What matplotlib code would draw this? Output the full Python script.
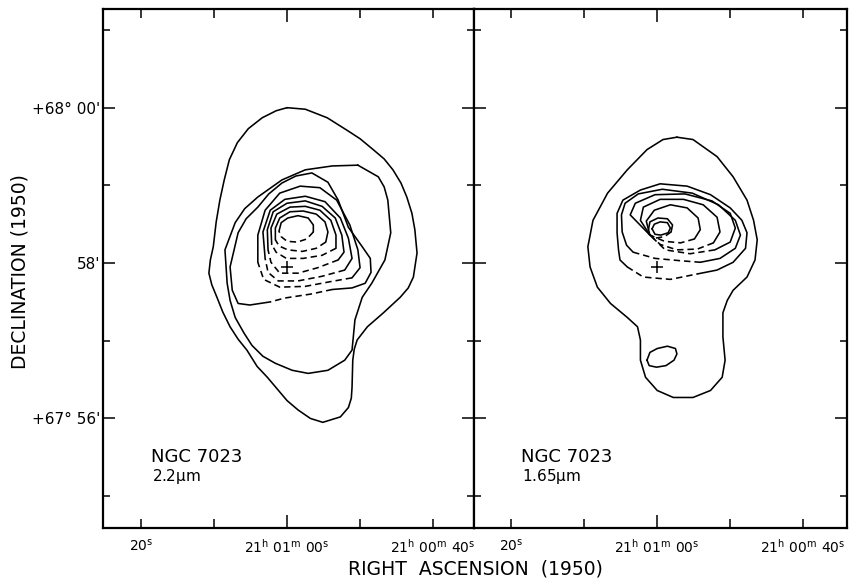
import matplotlib.pyplot as plt

plt.rcParams['font.family'] = 'DejaVu Sans'
plt.rcParams['mathtext.fontset'] = 'dejavusans'
plt.rcParams['mathtext.default'] = 'regular'

# axes: x = RA offset in seconds from 21h01m00s (east positive), y = Dec offset in arcmin from +67 58'
ra_ticks = [20, 10, 0, -10, -20]
ra_labels = [r'$20^{s}$', '', r'$21^{h}\ 01^{m}\ 00^{s}$', '', r'$21^{h}\ 00^{m}\ 40^{s}$']
dec_ticks = [-3, -2, -1, 0, 1, 2, 3]
dec_labels = ['', "+67° 56'", '', "58'", '', "+68° 00'", '']
star_x, star_y = 0.0, -0.05

# ---- 2.2 micron map ----
k_outer_x = [0.0, -2.5, -5.5, -8.2, -10.0, -11.8, -13.3, -14.5, -15.6, -16.4, -17.1, -17.5, -17.8, -17.3, -16.6,
             -15.5, -13.2, -11.0, -9.6, -9.2, -9.0, -8.9, -8.8, -8.4, -7.3, -4.9, -3.2, -1.5, 0.0, 2.7, 4.1, 5.5,
             6.7, 7.8, 8.8, 9.6, 10.3, 10.7, 10.5, 10.1, 9.7, 9.2, 8.6, 7.9, 6.8, 5.3, 3.4, 1.5, 0.0]
k_outer_y = [2.00, 1.98, 1.87, 1.71, 1.60, 1.46, 1.34, 1.20, 1.03, 0.85, 0.64, 0.43, 0.13, -0.18, -0.32,
             -0.44, -0.64, -0.82, -0.99, -1.11, -1.25, -1.60, -1.74, -1.86, -1.98, -2.05, -2.00, -1.89, -1.77,
             -1.47, -1.33, -1.12, -0.98, -0.82, -0.63, -0.44, -0.28, -0.13, 0.04, 0.21, 0.53, 0.81, 1.07, 1.33,
             1.55, 1.73, 1.87, 1.96, 2.00]
k_b_x = [-9.7, -12.5, -13.3, -13.8, -14.2, -13.4, -11.6, -10.3, -9.3, -8.9, -7.9, -5.6, -2.9, -0.7, 1.6, 3.3,
         4.8, 5.9, 7.1, 7.8, 8.2, 8.5, 7.1, 5.8, 4.0, 0.7, -2.5, -6.2, -9.7]
k_b_y = [1.26, 1.11, 0.98, 0.81, 0.39, 0.04, -0.26, -0.44, -0.73, -1.12, -1.25, -1.38, -1.42, -1.38, -1.29,
         -1.20, -1.06, -0.90, -0.70, -0.48, -0.26, 0.17, 0.52, 0.70, 0.85, 1.07, 1.20, 1.25, 1.26]
k_c_x = [2.3, 5.1, 6.7, 7.5, 7.8, 6.7, 5.6, 4.0, 2.5, 0.7, -1.2, -3.4, -5.6, -7.0, -8.4, -10.3, -11.4, -11.5,
         -10.7, -8.9, -6.2]
k_c_y = [-0.50, -0.54, -0.52, -0.35, -0.05, 0.39, 0.57, 0.72, 0.89, 1.03, 1.12, 1.16, 1.04, 0.81, 0.46, 0.21,
         0.06, -0.12, -0.26, -0.32, -0.34]
k_c_dash_x = [-6.2, -3.2, 0.3, 2.3]
k_c_dash_y = [-0.34, -0.40, -0.45, -0.50]

k_i5_x = [4.0, 4.0, 3.0, 1.0, -1.8, -4.5, -6.8, -8.6, -9.7, -10.0, -8.9]
k_i5_y = [0.01, 0.36, 0.68, 0.90, 0.99, 0.97, 0.81, 0.49, 0.17, -0.06, -0.19]
k_i5_dash_x = [-8.9, -5.9, -2.5, 1.0, 3.2, 4.0]
k_i5_dash_y = [-0.19, -0.24, -0.30, -0.31, -0.21, 0.01]
k_i4_x = [3.0, 3.3, 2.3, 0.3, -2.5, -5.2, -7.3, -8.4, -8.9, -7.9]
k_i4_y = [0.06, 0.40, 0.68, 0.82, 0.86, 0.79, 0.58, 0.32, 0.06, -0.09]
k_i4_dash_x = [-7.9, -4.8, -1.5, 1.2, 2.6, 3.0]
k_i4_dash_y = [-0.09, -0.17, -0.23, -0.23, -0.12, 0.06]
k_i3_x = [2.6, 2.7, 1.9, 0.0, -2.5, -4.8, -6.6, -7.5, -7.8, -7.0]
k_i3_y = [0.17, 0.43, 0.66, 0.77, 0.80, 0.73, 0.58, 0.36, 0.14, 0.04]
k_i3_dash_x = [-7.0, -4.2, -1.5, 1.0, 2.2, 2.6]
k_i3_dash_y = [0.04, -0.06, -0.13, -0.13, 0.01, 0.17]
k_i2_x = [2.1, 2.2, 1.4, -0.4, -2.5, -4.5, -6.0, -6.7, -6.7]
k_i2_y = [0.24, 0.45, 0.63, 0.72, 0.73, 0.68, 0.55, 0.36, 0.19]
k_i2_dash_x = [-6.7, -4.8, -2.2, 0.1, 1.5, 2.1]
k_i2_dash_y = [0.19, 0.10, 0.06, 0.06, 0.14, 0.24]
k_i1_x = [1.6, 1.6, 1.0, -0.4, -2.2, -4.0, -5.2, -5.6, -5.3]
k_i1_y = [0.30, 0.45, 0.58, 0.66, 0.67, 0.63, 0.53, 0.40, 0.27]
k_i1_dash_x = [-5.3, -4.0, -2.1, -0.1, 1.1, 1.6]
k_i1_dash_y = [0.27, 0.19, 0.15, 0.17, 0.22, 0.30]
k_i0_x = [1.1, 0.8, -0.1, -1.5, -2.9, -3.6, -3.6]
k_i0_y = [0.41, 0.52, 0.58, 0.61, 0.58, 0.49, 0.40]
k_i0_dash_x = [-3.6, -2.7, -1.4, 0.0, 0.8, 1.1]
k_i0_dash_y = [0.40, 0.31, 0.27, 0.28, 0.34, 0.41]

# ---- 1.65 micron map ----
h_outer_x = [-2.7, -4.9, -8.2, -10.4, -12.3, -13.2, -13.7, -13.4, -12.3, -10.4, -9.6, -9.0, -9.0, -9.3, -8.9,
             -7.3, -4.9, -2.2, 0.0, 1.6, 2.3, 2.3, 2.7, 4.1, 6.4, 8.2, 9.2, 9.5, 8.8, 6.8, 4.1, 1.4, -0.8, -2.7]
h_outer_y = [1.62, 1.59, 1.37, 1.11, 0.81, 0.55, 0.30, 0.04, -0.18, -0.35, -0.48, -0.64, -0.95, -1.25, -1.47,
             -1.64, -1.73, -1.73, -1.64, -1.47, -1.25, -0.99, -0.82, -0.70, -0.52, -0.31, -0.05, 0.21, 0.55, 0.90,
             1.20, 1.46, 1.59, 1.62]
h_knot_x = [1.4, 1.0, 0.0, -1.4, -2.5, -2.7, -2.3, -1.2, 0.1, 1.1, 1.4]
h_knot_y = [-1.25, -1.15, -1.10, -1.07, -1.10, -1.17, -1.25, -1.32, -1.34, -1.32, -1.25]
h_b_x = [-5.5, -8.2, -10.4, -12.1, -12.3, -11.6, -10.0, -7.3, -4.1, -0.4, 2.3, 4.7, 5.5, 5.5, 5.3, 5.1, 4.1]
h_b_y = [-0.14, -0.09, 0.01, 0.19, 0.39, 0.55, 0.71, 0.88, 0.99, 1.02, 0.94, 0.81, 0.64, 0.39, 0.17, 0.04, -0.05]
h_b_dash_x = [4.1, 1.9, -1.8, -5.5]
h_b_dash_y = [-0.05, -0.18, -0.21, -0.14]
h_c_x = [-5.9, -8.6, -10.7, -11.4, -10.7, -8.4, -4.8, -0.7, 2.6, 4.4, 4.9, 4.8, 4.2, 3.3]
h_c_y = [0.01, 0.06, 0.19, 0.36, 0.55, 0.75, 0.90, 0.95, 0.89, 0.77, 0.62, 0.40, 0.23, 0.14]
h_c_dash_x = [3.3, 0.3, -3.2, -5.9]
h_c_dash_y = [0.14, 0.06, 0.03, 0.01]
h_la_x = [1.0, 3.7, 3.0, 0.3, -3.8, -7.5, -10.0, -10.7, -10.0, -7.9]
h_la_y = [0.36, 0.62, 0.77, 0.88, 0.89, 0.80, 0.64, 0.45, 0.27, 0.17]
h_la_dash_x = [-7.9, -4.5, -1.1, 1.0]
h_la_dash_y = [0.17, 0.12, 0.17, 0.36]
h_lb_x = [1.0, 2.3, 1.9, -0.4, -3.6, -6.3, -8.2, -8.6, -7.7]
h_lb_y = [0.36, 0.55, 0.72, 0.82, 0.82, 0.75, 0.59, 0.40, 0.26]
h_lb_dash_x = [-7.7, -5.5, -2.7, -0.4, 1.0]
h_lb_dash_y = [0.26, 0.18, 0.17, 0.24, 0.36]
h_lc_x = [1.0, 1.5, 0.4, -1.8, -4.1, -5.6, -5.9, -5.1]
h_lc_y = [0.36, 0.54, 0.68, 0.75, 0.71, 0.58, 0.43, 0.31]
h_lc_dash_x = [-5.1, -3.2, -1.0, 1.0]
h_lc_dash_y = [0.31, 0.26, 0.28, 0.36]
h_r2_x = [1.2, 1.0, -0.1, -1.4, -2.1, -1.9]
h_r2_y = [0.43, 0.53, 0.58, 0.57, 0.49, 0.40]
h_r2_dash_x = [-1.9, -1.0, 0.3, 1.1, 1.2]
h_r2_dash_y = [0.40, 0.34, 0.32, 0.37, 0.43]
h_r1_x = [0.7, 0.4, -0.4, -1.4, -1.8, -1.5, -0.5, 0.3, 0.7]
h_r1_y = [0.44, 0.50, 0.53, 0.52, 0.45, 0.39, 0.36, 0.37, 0.44]

k_solid = [(k_outer_x, k_outer_y), (k_b_x, k_b_y), (k_c_x, k_c_y), (k_i5_x, k_i5_y), (k_i4_x, k_i4_y),
           (k_i3_x, k_i3_y), (k_i2_x, k_i2_y), (k_i1_x, k_i1_y), (k_i0_x, k_i0_y)]
k_dashed = [(k_c_dash_x, k_c_dash_y), (k_i5_dash_x, k_i5_dash_y), (k_i4_dash_x, k_i4_dash_y),
            (k_i3_dash_x, k_i3_dash_y), (k_i2_dash_x, k_i2_dash_y), (k_i1_dash_x, k_i1_dash_y),
            (k_i0_dash_x, k_i0_dash_y)]
h_solid = [(h_outer_x, h_outer_y), (h_knot_x, h_knot_y), (h_b_x, h_b_y), (h_c_x, h_c_y), (h_la_x, h_la_y),
           (h_lb_x, h_lb_y), (h_lc_x, h_lc_y), (h_r2_x, h_r2_y), (h_r1_x, h_r1_y)]
h_dashed = [(h_b_dash_x, h_b_dash_y), (h_c_dash_x, h_c_dash_y), (h_la_dash_x, h_la_dash_y),
            (h_lb_dash_x, h_lb_dash_y), (h_lc_dash_x, h_lc_dash_y), (h_r2_dash_x, h_r2_dash_y)]

W, H = 856, 580
fig = plt.figure(figsize=(W / 100, H / 100), dpi=100)
ax_k = fig.add_axes([103 / W, 1 - 528 / H, 371 / W, 519 / H])
ax_h = fig.add_axes([474 / W, 1 - 528 / H, 373 / W, 519 / H])


def setup(ax, xlim, show_y):
    ax.set_xlim(*xlim)
    ax.set_ylim(-3.41, 3.27)
    for s in ax.spines.values():
        s.set_linewidth(1.6)
    ax.set_xticks(ra_ticks)
    ax.set_xticklabels(ra_labels, fontsize=10)
    ax.set_yticks(dec_ticks)
    ax.set_yticklabels(dec_labels if show_y else [''] * len(dec_ticks), fontsize=11)
    ax.tick_params(direction='in', top=True, right=True, width=1.1, length=6.5, colors='black')
    ax.tick_params(axis='x', pad=7)
    ax.tick_params(axis='y', length=5, pad=2)
    # the centre RA tick and the labelled Dec ticks are drawn longer
    ax.xaxis.get_major_ticks()[2].tick1line.set_markersize(9.5)
    ax.xaxis.get_major_ticks()[2].tick2line.set_markersize(9.5)
    for i in (1, 3, 5):
        ax.yaxis.get_major_ticks()[i].tick1line.set_markersize(8.5)
        ax.yaxis.get_major_ticks()[i].tick2line.set_markersize(8.5)


def draw(ax, solid, dashed):
    for xs, ys in solid:
        ax.plot(xs, ys, color='black', lw=1.15, solid_joinstyle='round', solid_capstyle='round')
    for xs, ys in dashed:
        ax.plot(xs, ys, color='black', lw=1.15, ls=(0, (4, 2.5)))
    ax.plot(star_x, star_y, marker='+', ms=9, mew=1.1, color='black')


setup(ax_k, (25.2, -25.6), True)
setup(ax_h, (25.1, -26.0), False)
draw(ax_k, k_solid, k_dashed)
draw(ax_h, h_solid, h_dashed)

ax_k.text(18.6, -2.56, 'NGC 7023', fontsize=13)
ax_k.text(18.5, -2.80, r'2.2$\mu$m', fontsize=11)
ax_h.text(18.6, -2.56, 'NGC 7023', fontsize=13)
ax_h.text(18.5, -2.80, r'1.65$\mu$m', fontsize=11)

fig.text(475 / W, 1 - 569 / H, 'RIGHT  ASCENSION  (1950)', fontsize=13.5, ha='center', va='center')
fig.text(20 / W, 1 - 272 / H, 'DECLINATION (1950)', fontsize=13.5, ha='center', va='center', rotation=90)

fig.savefig('out.png', dpi=100)
